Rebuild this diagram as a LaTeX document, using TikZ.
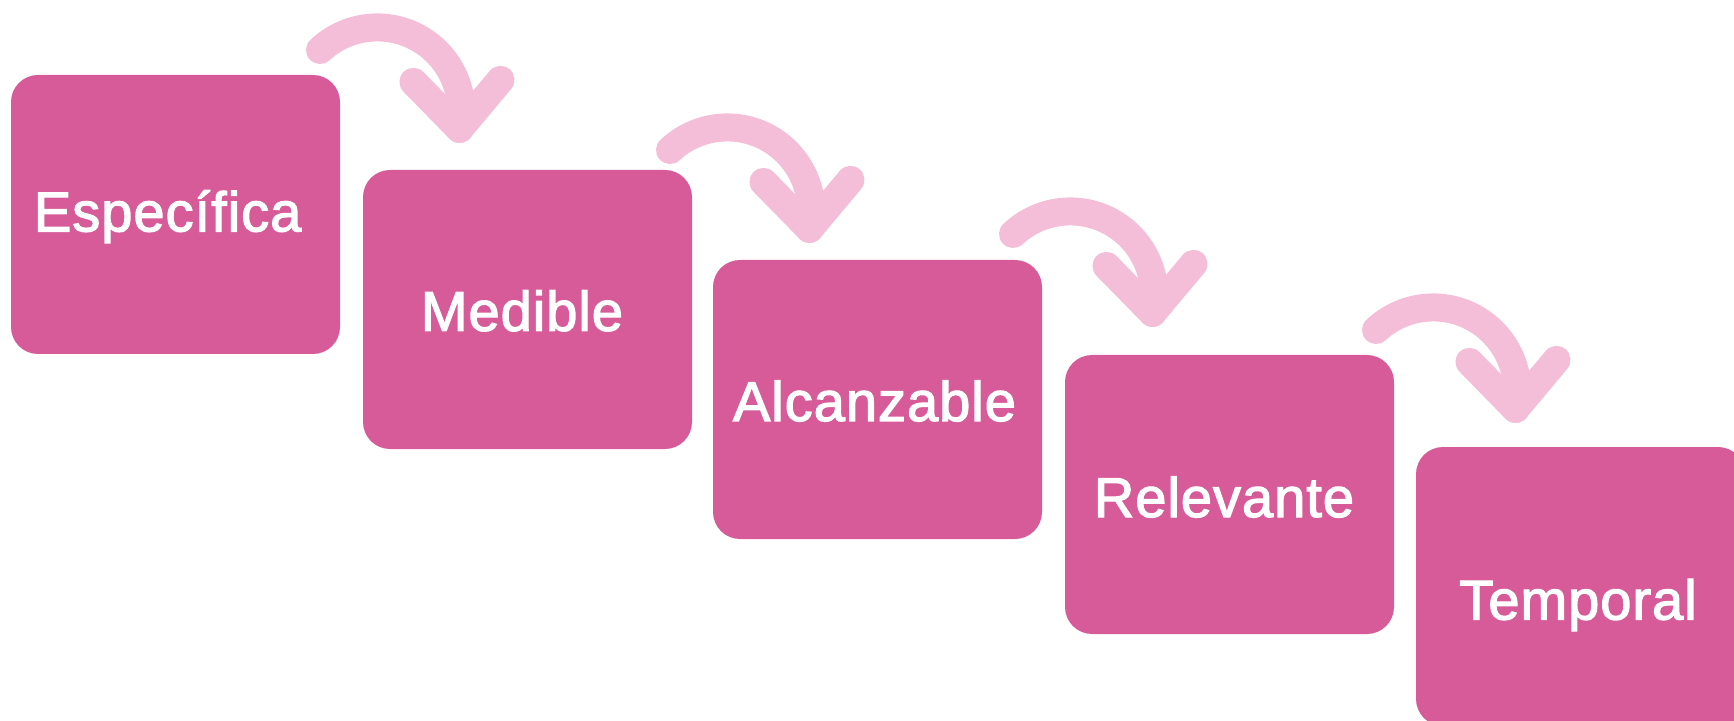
\documentclass[tikz,border=0pt]{standalone}
\usepackage{fontspec}
\setmainfont{Liberation Sans}
\newfontfamily\labelfont{Liberation Sans}[FakeBold=2.2, LetterSpace=1.8]
\usetikzlibrary{calc}
\definecolor{boxpink}{RGB}{214,91,152}
\definecolor{arrowpink}{RGB}{244,190,216}
\begin{document}
\begin{tikzpicture}[x=0.5pt,y=-0.5pt,
  stepbox/.style={fill=boxpink, draw=none, rounded corners=13.5pt,
    minimum width=164.5pt, minimum height=139.5pt, inner sep=0pt},
  steplabel/.style={text=white, inner sep=0pt, text height=20pt, text depth=0pt,
    font=\labelfont\fontsize{28}{28}\selectfont},
  arrowline/.style={draw=arrowpink, line width=14pt, line cap=round, line join=round}]
\useasboundingbox (0,0) rectangle (1734,721);
% boxes
\node[stepbox] (b1) at (175.5,214.5) {};
\node[stepbox] (b2) at (527.5,309.5) {};
\node[stepbox] (b3) at (877.5,399.5) {};
\node[stepbox] (b4) at (1229.5,494.5) {};
\node[stepbox] (b5) at (1580.5,586.5) {};
% labels
\node[steplabel] (t1) at ($(b1.center)+(-7.8,-3.1)$) {Específica};
\node[steplabel] (t2) at ($(b2.center)+(-5.5,1.3)$) {Medible};
\node[steplabel] (t3) at ($(b3.center)+(-3,1.5)$) {Alcanzable};
\node[steplabel] (t4) at ($(b4.center)+(-5.5,2.5)$) {Relevante};
\node[steplabel] (t5) at ($(b5.center)+(-2.5,13)$) {Temporal};
% arrows
\coordinate (s1) at (320,50);
\coordinate (s2) at (670,150);
\coordinate (s3) at (1013,234);
\coordinate (s4) at (1376,330);
\foreach \i in {1,2,3,4}{
  \draw[arrowline] (s\i) arc[start angle=227, end angle=372, radius=84] coordinate (p\i);
  \draw[arrowline] ($(p\i)+(-46,-47)$) -- (p\i) -- ($(p\i)+(41,-49)$);
}
\end{tikzpicture}
\end{document}
